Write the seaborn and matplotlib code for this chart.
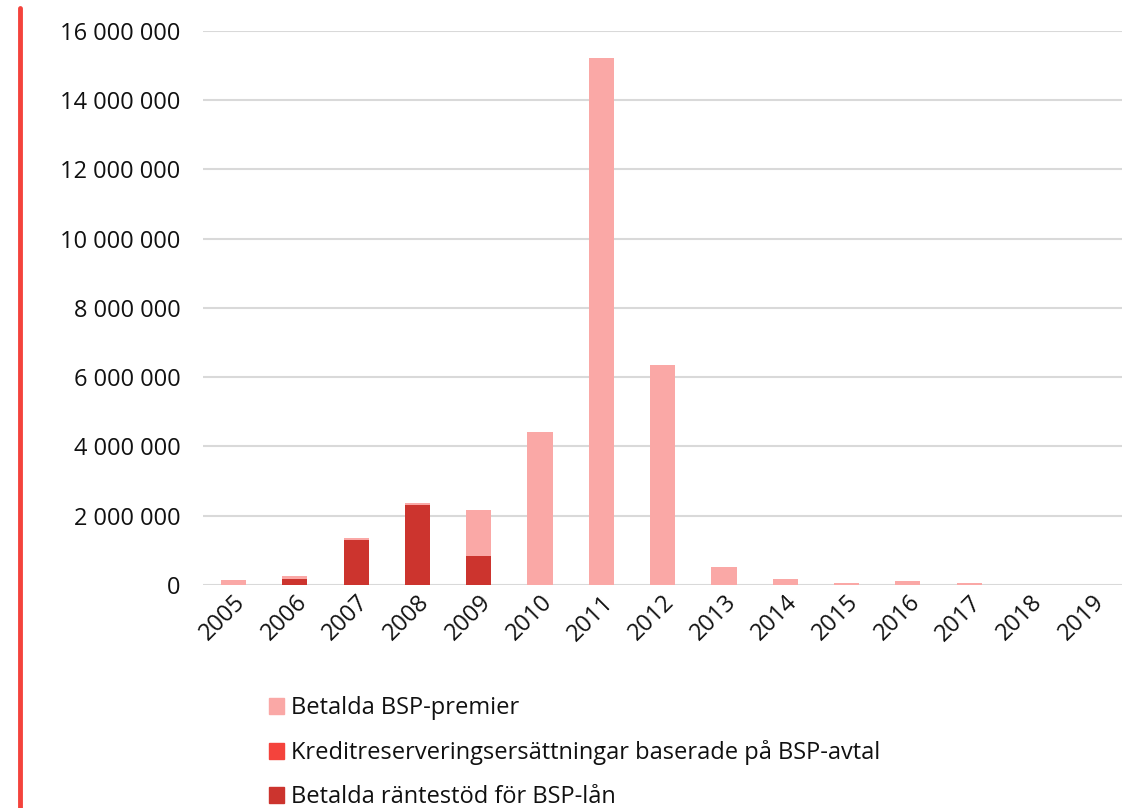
import seaborn as sns
import matplotlib.pyplot as plt
import matplotlib.ticker as mticker
from matplotlib.lines import Line2D
from matplotlib.patches import Patch

# data
years = ['2005', '2006', '2007', '2008', '2009', '2010', '2011', '2012',
         '2013', '2014', '2015', '2016', '2017', '2018', '2019']
rantestod = [0, 175000, 1300000, 2310000, 840000, 0, 0, 0,
             0, 0, 0, 0, 0, 0, 0]
kredit = [0] * 15
premier = [150000, 85000, 60000, 50000, 1330000, 4420000, 15200000, 6360000,
           520000, 180000, 60000, 120000, 50000, 0, 0]

c_premier = '#FAA8A6'
c_kredit = '#F4433C'
c_ranta = '#CC342E'

sns.set_style('white')
plt.rcParams['font.family'] = ['Open Sans', 'DejaVu Sans']

fig = plt.figure(figsize=(11.27, 8.08), dpi=100)
ax = fig.add_axes([0.180, 0.276, 0.816, 0.686])

bottom2 = [a + b for a, b in zip(rantestod, kredit)]
sns.barplot(x=years, y=rantestod, color=c_ranta, width=0.41, saturation=1,
            ax=ax, linewidth=0)
sns.barplot(x=years, y=kredit, bottom=rantestod, color=c_kredit, width=0.41,
            saturation=1, ax=ax, linewidth=0)
sns.barplot(x=years, y=premier, bottom=bottom2, color=c_premier, width=0.41,
            saturation=1, ax=ax, linewidth=0)

ax.set_ylim(0, 16000000)
ax.set_xlim(-0.5, 14.5)
ax.yaxis.set_major_locator(mticker.MultipleLocator(2000000))
ax.yaxis.set_major_formatter(mticker.FuncFormatter(
    lambda v, p: f'{int(v):,}'.replace(',', ' ')))
ax.grid(axis='y', color='#D9D9D9', linewidth=1.5)
ax.set_axisbelow(True)
for s in ['top', 'right', 'left', 'bottom']:
    ax.spines[s].set_visible(False)
ax.tick_params(axis='y', labelsize=17, length=0, pad=16, colors='#111111')
ax.tick_params(axis='x', labelsize=17, length=0, pad=4, colors='#111111')
plt.setp(ax.get_xticklabels(), rotation=45, ha='right', rotation_mode='anchor')
ax.set_xlabel('')
ax.set_ylabel('')

# decorative red line on the left
fig.add_artist(Line2D([0.018, 0.018], [0.0, 0.99], color=c_kredit,
                      linewidth=3.5, transform=fig.transFigure))

handles = [Patch(color=c_premier, label='Betalda BSP-premier'),
           Patch(color=c_kredit, label='Kreditreserveringsersättningar baserade på BSP-avtal'),
           Patch(color=c_ranta, label='Betalda räntestöd för BSP-lån')]
fig.legend(handles=handles, loc='upper left', bbox_to_anchor=(0.230, 0.150),
           frameon=False, fontsize=17, handlelength=0.65, handleheight=0.65,
           handletextpad=0.3, labelspacing=0.85, borderaxespad=0,
           labelcolor='#111111')

fig.savefig('out.png', dpi=100)
